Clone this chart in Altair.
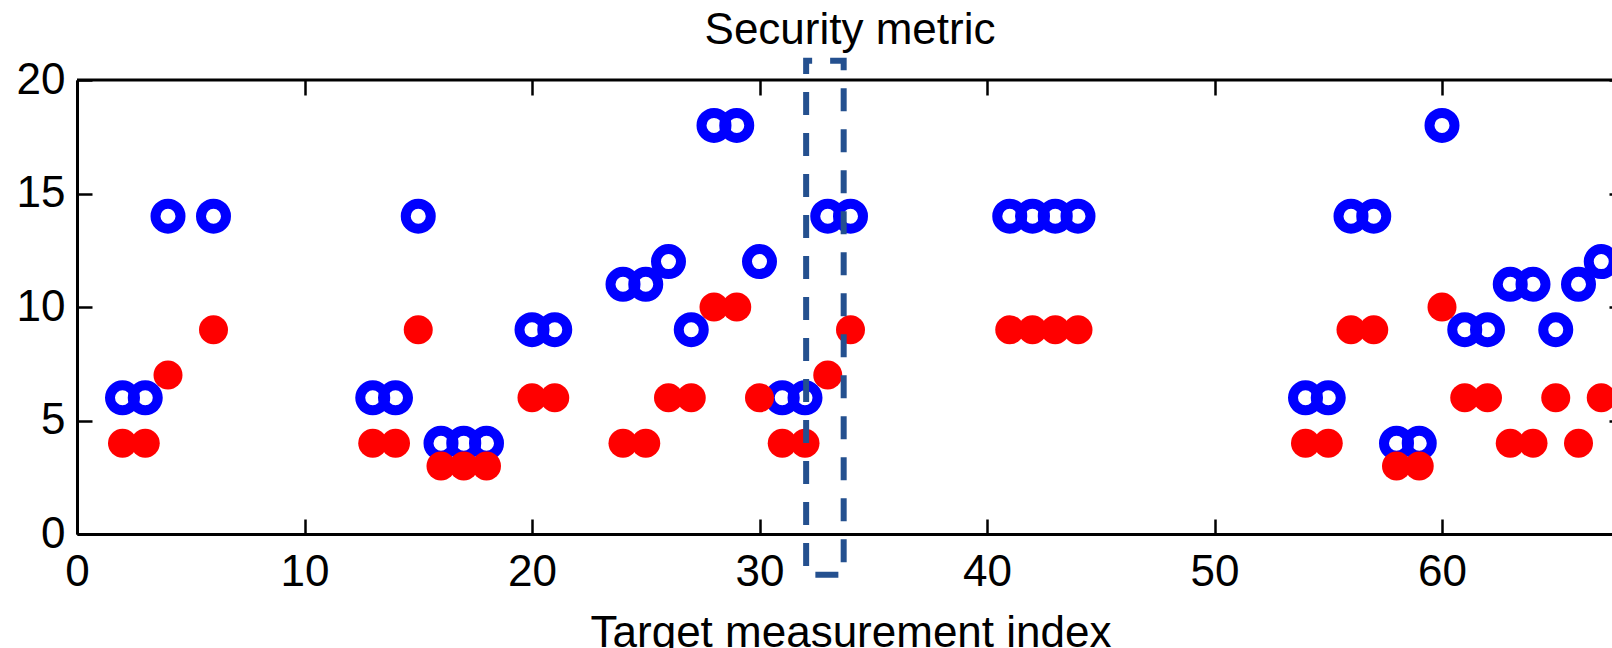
import altair as alt
import pandas as pd

# ---- data ----
index = [2, 3, 4, 6, 13, 14, 15, 16, 17, 18, 20, 21, 24, 25, 26, 27, 28, 29, 30, 31, 32,
         33, 34, 41, 42, 43, 44, 54, 55, 56, 57, 58, 59, 60, 61, 62, 63, 64, 65, 66, 67]
blue_metric = [6, 6, 14, 14, 6, 6, 14, 4, 4, 4, 9, 9, 11, 11, 12, 9, 18, 18, 12, 6, 6,
               14, 14, 14, 14, 14, 14, 6, 6, 14, 14, 4, 4, 18, 9, 9, 11, 11, 9, 11, 12]
red_metric = [4, 4, 7, 9, 4, 4, 9, 3, 3, 3, 6, 6, 4, 4, 6, 6, 10, 10, 6, 4, 4,
              7, 9, 9, 9, 9, 9, 4, 4, 9, 9, 3, 3, 10, 6, 6, 4, 4, 6, 4, 6]

x_ticks = [0, 10, 20, 30, 40, 50, 60]
y_ticks = [0, 5, 10, 15, 20]
x_domain = [0, 68]
y_domain = [0, 20]
box_x = [32.05, 33.7]
box_y = [-1.8, 20.85]

pts = pd.DataFrame({"index": index, "blue": blue_metric, "red": red_metric})
box = pd.DataFrame({"x": [box_x[0]], "x2": [box_x[1]], "y": [box_y[0]], "y2": [box_y[1]]})
frame = pd.DataFrame({"x": [x_domain[0]], "x2": [x_domain[1]], "y": [y_domain[1]]})

W, H = 1534, 454
XR = 1547  # pixel length of the full x domain (right edge falls outside the page)
FONT = "Liberation Sans"
FS = 44
TICK = 15

xs = alt.Scale(domain=x_domain, range=[0, XR], nice=False, zero=False)
ys = alt.Scale(domain=y_domain, nice=False, zero=False)

ax_bottom = alt.Axis(orient="bottom", values=x_ticks, ticks=False, tickSize=0, domain=True,
                     domainColor="black", domainWidth=3, grid=False, labelFont=FONT,
                     labelFontSize=FS, labelColor="black", labelPadding=16, labelFlush=False,
                     labelOverlap=False, title="Target measurement index", titleFont=FONT,
                     titleFontSize=FS, titleFontWeight="normal", titleColor="black",
                     titleBaseline="alphabetic", titleY=112)
ax_left = alt.Axis(orient="left", values=y_ticks, ticks=False, tickSize=0, domain=True,
                   domainColor="black", domainWidth=3, grid=False, labelFont=FONT,
                   labelFontSize=FS, labelColor="black", labelPadding=12, labelFlush=False,
                   labelOverlap=False, title=None)
ax_bottom_ticks = alt.Axis(orient="bottom", values=x_ticks, offset=-TICK, domain=False,
                           labels=False, ticks=True, tickSize=TICK, tickColor="black",
                           tickWidth=2.5, grid=False, title=None)
ax_left_ticks = alt.Axis(orient="left", values=y_ticks, offset=-TICK, domain=False,
                         labels=False, ticks=True, tickSize=TICK, tickColor="black",
                         tickWidth=2.5, grid=False, title=None)
ax_top_ticks = alt.Axis(orient="top", values=x_ticks, offset=-TICK, domain=False,
                        labels=False, ticks=True, tickSize=TICK, tickColor="black",
                        tickWidth=2.5, grid=False, title=None)
ax_right_ticks = alt.Axis(orient="right", values=y_ticks, offset=-2, domain=False,
                          labels=False, ticks=True, tickSize=TICK, tickColor="black",
                          tickWidth=2.5, grid=False, title=None)

blue_layer = alt.Chart(pts).mark_point(
    shape="circle", filled=False, size=625, strokeWidth=10, color="#0000ff", opacity=1
).encode(
    x=alt.X("index:Q", scale=xs, axis=ax_bottom),
    y=alt.Y("blue:Q", scale=ys, axis=ax_left),
)

red_layer = alt.Chart(pts).mark_circle(size=841, color="#ff0000", opacity=1).encode(
    x=alt.X("index:Q", scale=xs, axis=ax_bottom_ticks),
    y=alt.Y("red:Q", scale=ys, axis=ax_left_ticks),
)

frame_layer = alt.Chart(frame).mark_rule(color="black", strokeWidth=3).encode(
    x=alt.X("x:Q", scale=xs, axis=ax_top_ticks),
    x2="x2:Q",
    y=alt.Y("y:Q", scale=ys, axis=ax_right_ticks),
)

box_layer = alt.Chart(box).mark_rect(
    fill="white", fillOpacity=0, stroke="#24508f", strokeWidth=6,
    strokeDash=[23, 18], strokeDashOffset=17
).encode(
    x=alt.X("x:Q", scale=xs, axis=None),
    x2="x2:Q",
    y=alt.Y("y:Q", scale=ys, axis=None),
    y2="y2:Q",
)

chart = alt.layer(blue_layer, red_layer, frame_layer, box_layer).resolve_axis(
    x="independent", y="independent"
).properties(
    width=W,
    height=H,
    title=alt.TitleParams("Security metric", font=FONT, fontSize=FS, fontWeight="normal",
                          color="black", anchor="middle", frame="group",
                          baseline="alphabetic", offset=16, dx=6, dy=46),
    autosize=alt.AutoSizeParams(type="none"),
    padding={"left": 77, "top": 80, "right": 1, "bottom": 114},
).configure_view(strokeWidth=0)

chart.save("out.html", embed_options={"renderer": "svg", "actions": False})
